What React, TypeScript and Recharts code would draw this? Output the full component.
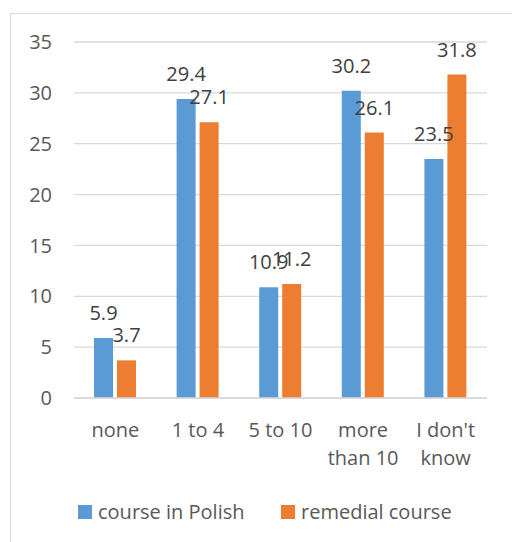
import { BarChart, Bar, XAxis, YAxis, CartesianGrid, Legend, LabelList, Text } from "recharts";

const categories = ["none", "1 to 4", "5 to 10", "more than 10", "I don't know"];
const coursePolish = [5.9, 29.4, 10.9, 30.2, 23.5];
const remedialCourse = [3.7, 27.1, 11.2, 26.1, 31.8];
const yTicks = [0, 5, 10, 15, 20, 25, 30, 35];

const BLUE = "#5B9BD5";
const ORANGE = "#ED7D31";
const FONT = "'Open Sans', Lato, sans-serif";

const data = categories.map((name, i) => ({
  name,
  polish: coursePolish[i],
  remedial: remedialCourse[i],
}));

// wraps "more than 10" / "I don't know" onto two lines like the original
// (style is needed so Text measures words at the real font size)
const CategoryTick = ({ x, y, payload }: any) => (
  <Text
    x={x}
    y={y}
    width={76}
    textAnchor="middle"
    verticalAnchor="start"
    lineHeight={28}
    fontSize={20}
    fontFamily={FONT}
    style={{ fontSize: 20, fontFamily: FONT }}
    fill="#595959"
  >
    {payload.value}
  </Text>
);

const legendItems = [
  { label: "course in Polish", color: BLUE, left: 67 },
  { label: "remedial course", color: ORANGE, left: 270 },
];

const ChartLegend = () => (
  <div style={{ position: "relative", height: 64, width: 500 }}>
    {legendItems.map((item) => (
      <div
        key={item.label}
        style={{
          position: "absolute",
          left: item.left,
          top: 20,
          display: "flex",
          alignItems: "center",
          gap: 6,
          fontFamily: FONT,
          fontSize: 20,
          color: "#595959",
          whiteSpace: "nowrap",
        }}
      >
        <span style={{ width: 14, height: 14, background: item.color, display: "inline-block" }} />
        {item.label}
      </div>
    ))}
  </div>
);

export default function App() {
  return (
    <div
      style={{
        position: "absolute",
        left: 10,
        top: 13,
        width: 501,
        height: 528,
        borderLeft: "1px solid #d9d9d9",
        borderTop: "1px solid #d9d9d9",
        background: "#fff",
      }}
    >
      <BarChart
        width={500}
        height={528}
        data={data}
        margin={{ top: 28, right: 24, left: 0, bottom: 0 }}
        barGap={4}
        barSize={19}
      >
        <CartesianGrid vertical={false} stroke="#d9d9d9" strokeWidth={1.3} />
        <XAxis
          dataKey="name"
          height={80}
          tickSize={0}
          tickMargin={25}
          axisLine={{ stroke: "#d9d9d9", strokeWidth: 1.3 }}
          tick={<CategoryTick />}
          interval={0}
        />
        <YAxis
          width={63}
          domain={[0, 35]}
          ticks={yTicks}
          tickSize={0}
          tickMargin={22}
          axisLine={false}
          tick={{ fontSize: 20, fontFamily: FONT, fill: "#595959" }}
        />
        <Legend verticalAlign="bottom" content={<ChartLegend />} />
        <Bar dataKey="polish" name="course in Polish" fill={BLUE} isAnimationActive={false}>
          <LabelList dataKey="polish" position="top" offset={18} fontSize={20} fontFamily={FONT} fill="#404040" />
        </Bar>
        <Bar dataKey="remedial" name="remedial course" fill={ORANGE} isAnimationActive={false}>
          <LabelList dataKey="remedial" position="top" offset={18} fontSize={20} fontFamily={FONT} fill="#404040" />
        </Bar>
      </BarChart>
    </div>
  );
}
